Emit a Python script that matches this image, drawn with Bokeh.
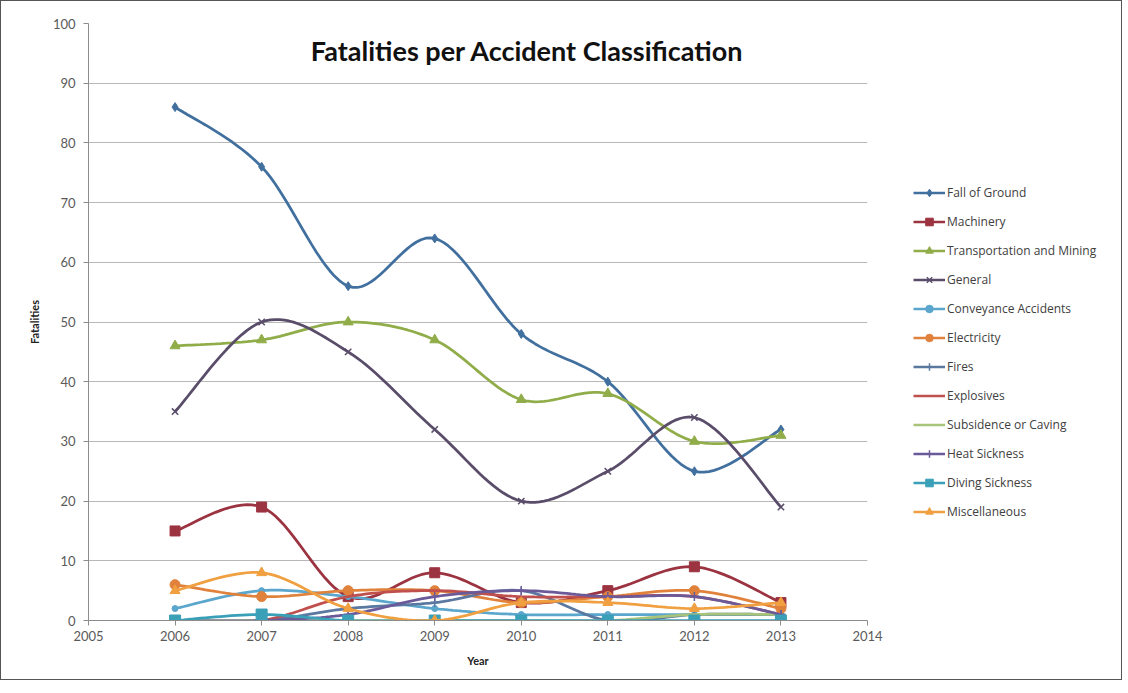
import numpy as np
from bokeh.plotting import figure
from bokeh.layouts import row
from bokeh.models import Range1d, Legend, LegendItem, Label, FixedTicker
from bokeh.embed import file_html
from bokeh.resources import INLINE

years = [2006, 2007, 2008, 2009, 2010, 2011, 2012, 2013]

fall_of_ground = [86, 76, 56, 64, 48, 40, 25, 32]
machinery = [15, 19, 4, 8, 3, 5, 9, 3]
transportation = [46, 47, 50, 47, 37, 38, 30, 31]
general = [35, 50, 45, 32, 20, 25, 34, 19]
conveyance = [2, 5, 4, 2, 1, 1, 1, 1]
electricity = [6, 4, 5, 5, 3, 4, 5, 2]
fires = [0, 0, 2, 3, 5, 0, 1, 1]
explosives = [0, 0, 4, 5, 4, 4, 4, 1]
subsidence = [0, 0, 0, 0, 0, 0, 1, 1]
heat_sickness = [0, 0, 1, 4, 5, 4, 4, 1]
diving_sickness = [0, 1, 0, 0, 0, 0, 0, 0]
miscellaneous = [5, 8, 2, 0, 3, 3, 2, 3]

names = ["Fall of Ground", "Machinery", "Transportation and Mining", "General",
         "Conveyance Accidents", "Electricity", "Fires", "Explosives",
         "Subsidence or Caving", "Heat Sickness", "Diving Sickness", "Miscellaneous"]
series = [fall_of_ground, machinery, transportation, general, conveyance, electricity,
          fires, explosives, subsidence, heat_sickness, diving_sickness, miscellaneous]
colors = ["#41709f", "#9b3340", "#90ad4a", "#5a4d6a", "#5aa6cc", "#e0823c",
          "#5a78a0", "#c0504d", "#a8c47a", "#6b5a9a", "#3aa0b8", "#f0a040"]
markers = ["diamond", "square", "triangle", "x", "circle", "circle",
           "cross", None, None, "cross", "square", "triangle"]
msizes = [9, 10, 10, 9, 6, 10, 9, 0, 0, 9, 11, 10]


def smooth(xs, ys, n=20):
    x = np.asarray(xs, float)
    y = np.asarray(ys, float)
    px = np.concatenate([[x[0]], x, [x[-1]]])
    py = np.concatenate([[y[0]], y, [y[-1]]])
    ox, oy = [], []
    t = np.linspace(0, 1, n)
    for i in range(1, len(px) - 2):
        p0x, p1x, p2x, p3x = px[i - 1], px[i], px[i + 1], px[i + 2]
        p0y, p1y, p2y, p3y = py[i - 1], py[i], py[i + 1], py[i + 2]
        c1x = p1x + (p2x - p0x) / 6
        c1y = p1y + (p2y - p0y) / 6
        c2x = p2x - (p3x - p1x) / 6
        c2y = p2y - (p3y - p1y) / 6
        bx = (1 - t) ** 3 * p1x + 3 * (1 - t) ** 2 * t * c1x + 3 * (1 - t) * t ** 2 * c2x + t ** 3 * p2x
        by = (1 - t) ** 3 * p1y + 3 * (1 - t) ** 2 * t * c1y + 3 * (1 - t) * t ** 2 * c2y + t ** 3 * p2y
        ox.extend(bx.tolist())
        oy.extend(by.tolist())
    return ox, oy


p = figure(width=886, height=680, output_backend="svg", toolbar_location=None,
           x_range=Range1d(2005, 2014), y_range=Range1d(0, 100),
           min_border_left=87, min_border_right=20, min_border_top=22, min_border_bottom=61)
p.styles = {"border-left": "1px solid #555555", "border-top": "1px solid #555555",
            "border-bottom": "1px solid #555555", "box-sizing": "border-box"}
p.outline_line_color = None
p.xgrid.grid_line_color = None
p.ygrid.grid_line_color = "#b8b8b8"
p.ygrid.grid_line_width = 1

p.xaxis.ticker = FixedTicker(ticks=list(range(2005, 2015)))
p.yaxis.ticker = FixedTicker(ticks=list(range(0, 101, 10)))
for ax in (p.xaxis, p.yaxis):
    ax.axis_line_color = "#8c8c8c"
    ax.major_tick_line_color = "#8c8c8c"
    ax.major_tick_out = 5
    ax.major_tick_in = 0
    ax.minor_tick_line_color = None
    ax.major_label_text_font = "Lato"
    ax.major_label_text_font_size = "13px"
    ax.major_label_text_color = "#5a5a5a"
    ax.axis_label_text_font = "Lato"
    ax.axis_label_text_font_style = "bold"
    ax.axis_label_text_font_size = "11px"
    ax.axis_label_text_color = "#222222"
p.xaxis.axis_label = "Year"
p.yaxis.axis_label = "Fatalities"
p.xaxis.major_label_standoff = 5
p.xaxis.axis_label_standoff = 10
p.yaxis.major_label_standoff = 8
p.yaxis.axis_label_standoff = 9

# legend panel (separate canvas so the legend is not clipped by the plot frame)
q = figure(width=236, height=680, output_backend="svg", toolbar_location=None,
           x_range=Range1d(0, 1), y_range=Range1d(0, 1),
           min_border_left=0, min_border_right=0, min_border_top=0, min_border_bottom=0)
q.styles = {"border-right": "1px solid #555555", "border-top": "1px solid #555555",
            "border-bottom": "1px solid #555555", "box-sizing": "border-box"}
q.axis.visible = False
q.grid.visible = False
q.outline_line_color = None

hx = [-10.0, -9.0]
hy = [-10.0, -10.0]

items = []
for name, ys, col, mk, ms in zip(names, series, colors, markers, msizes):
    sx, sy = smooth(years, ys)
    p.line(sx, sy, line_color=col, line_width=2.75)
    rs = [q.line(hx, hy, line_color=col, line_width=2.5)]
    if mk is not None:
        if mk in ("x", "cross"):
            p.scatter(years, ys, marker=mk, size=ms, line_color=col, line_width=1.5)
            rs.append(q.scatter(hx, hy, marker=mk, size=ms - 2, line_color=col, line_width=1.5))
        else:
            p.scatter(years, ys, marker=mk, size=ms, fill_color=col, line_color=col)
            rs.append(q.scatter(hx, hy, marker=mk, size=ms - 2, fill_color=col, line_color=col))
    items.append(LegendItem(label=name, renderers=rs))

legend = Legend(items=items, location=(27, 99), orientation="vertical")
legend.border_line_color = None
legend.background_fill_alpha = 0
legend.label_text_font = "Open Sans"
legend.label_text_font_size = "12px"
legend.label_text_color = "#404040"
legend.glyph_width = 32
legend.glyph_height = 19
legend.label_height = 19
legend.spacing = 10
legend.padding = 0
legend.margin = 0
legend.label_standoff = 2
q.add_layout(legend)

title = Label(x=2010.07, y=95.5, text="Fatalities per Accident Classification",
              text_align="center", text_baseline="middle", text_font="Lato",
              text_font_style="bold", text_font_size="27px", text_color="#111111")
p.add_layout(title)

layout = row(p, q, spacing=0)
open("out.html", "w").write(file_html(layout, INLINE))
